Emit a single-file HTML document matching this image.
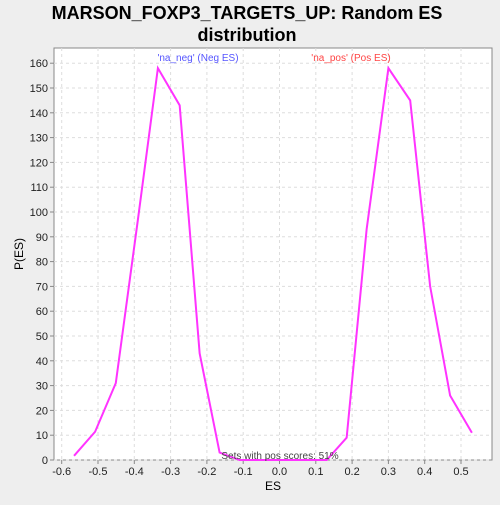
<!DOCTYPE html>
<html><head><meta charset="utf-8"><style>
body{margin:0;background:#eeeeee;font-family:"Liberation Sans","DejaVu Sans",sans-serif}
</style></head><body>
<svg id="c" width="500" height="500" xmlns="http://www.w3.org/2000/svg">
<rect width="500" height="500" fill="#eeeeee"/>
<text x="247" y="19" font-size="18" font-weight="bold" text-anchor="middle" fill="#000">MARSON_FOXP3_TARGETS_UP: Random ES</text>
<text x="247" y="41" font-size="18" font-weight="bold" text-anchor="middle" fill="#000">distribution</text>
<rect x="54" y="48" width="438" height="412" fill="#fff" stroke="#888"/>
<g id="grid"></g><g id="axes"></g><g id="series"></g>
<text x="198" y="61" font-size="10" fill="#5555ff" text-anchor="middle">'na_neg' (Neg ES)</text>
<text x="351" y="61" font-size="10" fill="#ff4444" text-anchor="middle">'na_pos' (Pos ES)</text>
<text x="280" y="459" font-size="10" fill="#444" text-anchor="middle">Sets with pos scores: 51%</text>
<text x="273" y="490" font-size="12" text-anchor="middle" fill="#000">ES</text>
<text x="23" y="254" font-size="12" text-anchor="middle" fill="#000" transform="rotate(-90 23 254)">P(ES)</text>
</svg>
<script>
const esValues=[-0.566,-0.508,-0.451,-0.39,-0.335,-0.275,-0.22,-0.165,-0.11,0.13,0.185,0.24,0.3,0.36,0.415,0.47,0.53];
const density=[1.7,11.4,31,97,158,143,43,3,0,0,9,93,158,145,70,26,11];
const xTicks=[-0.6,-0.5,-0.4,-0.3,-0.2,-0.1,0.0,0.1,0.2,0.3,0.4,0.5];
const yTicks=[0,10,20,30,40,50,60,70,80,90,100,110,120,130,140,150,160];
const NS="http://www.w3.org/2000/svg";
function x(v){return 279.5+v*363;}
function y(v){return 460-v*2.48;}
function mk(t,a,p){const e=document.createElementNS(NS,t);for(const k in a)e.setAttribute(k,a[k]);p.appendChild(e);return e;}
const g=document.getElementById('grid'),ax=document.getElementById('axes'),s=document.getElementById('series');
xTicks.forEach(v=>{
 const l=mk('line',{x1:x(v),x2:x(v),y1:48,y2:460,stroke:'#ddd','stroke-dasharray':'3,3'},g);
 
 
 mk('line',{x1:x(v),x2:x(v),y1:460,y2:464,stroke:'#888'},ax);
 const t=mk('text',{x:x(v),y:475,'font-size':11,'text-anchor':'middle',fill:'#222'},ax);
 t.textContent=v.toFixed(1);
 
 
});
yTicks.forEach(v=>{
 const l=mk('line',{x1:54,x2:492,y1:y(v),y2:y(v),stroke:'#ddd','stroke-dasharray':'3,3'},g);
 
 
 mk('line',{x1:50,x2:54,y1:y(v),y2:y(v),stroke:'#888'},ax);
 const t=mk('text',{x:48,y:y(v)+4,'font-size':11,'text-anchor':'end',fill:'#222'},ax);
 t.textContent=v;
 
 
});
const pts=esValues.map((v,i)=>x(v)+','+y(density[i])).join(' ');
const pl=mk('polyline',{points:pts,fill:'none',stroke:'#ff33ff','stroke-width':2},s);


</script>
</body></html>
